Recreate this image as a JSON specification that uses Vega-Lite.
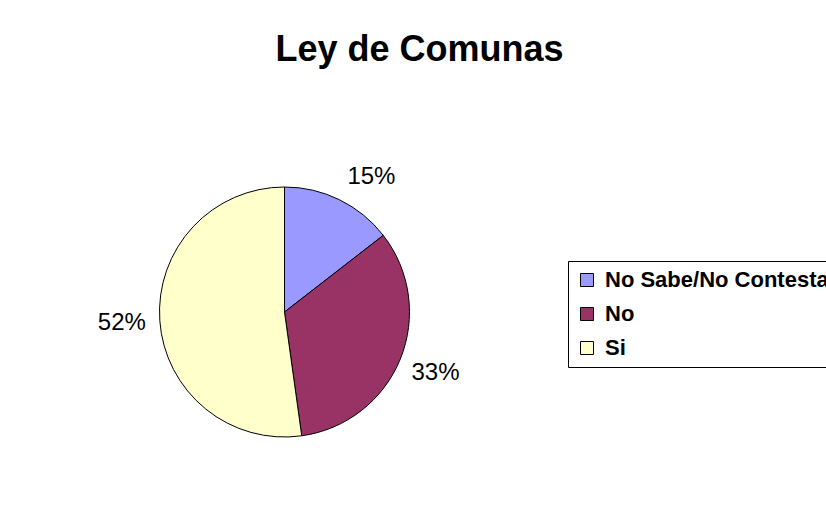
{
  "$schema": "https://vega.github.io/schema/vega-lite/v6.json",
  "width": 569,
  "height": 424,
  "autosize": {"type": "none"},
  "padding": {"left": 0, "top": 100, "right": 257, "bottom": 8},
  "background": "white",
  "title": {
    "text": "Ley de Comunas",
    "font": "Liberation Sans",
    "fontSize": 36,
    "fontWeight": "bold",
    "color": "black",
    "anchor": "middle",
    "frame": "group",
    "dx": 135,
    "offset": 31
  },
  "config": {
    "view": {"stroke": null},
    "legend": {
      "strokeColor": "black",
      "fillColor": "white",
      "padding": 8,
      "cornerRadius": 0,
      "labelFont": "Liberation Sans",
      "labelFontSize": 22,
      "labelFontWeight": "bold",
      "labelColor": "black",
      "labelOffset": 7,
      "labelLimit": 0,
      "rowPadding": 12,
      "symbolType": "square",
      "symbolSize": 169,
      "symbolStrokeColor": "black",
      "symbolStrokeWidth": 1,
      "symbolOpacity": 1
    }
  },
  "data": {
    "values": [
      {"category": "No Sabe/No Contesta", "value": 14.5, "label": "15%"},
      {"category": "No", "value": 33.3, "label": "33%"},
      {"category": "Si", "value": 52.2, "label": "52%"}
    ]
  },
  "encoding": {
    "theta": {"field": "value", "type": "quantitative", "stack": true},
    "order": {"field": "value", "type": "quantitative", "sort": "ascending"},
    "color": {
      "field": "category",
      "type": "nominal",
      "sort": ["No Sabe/No Contesta", "No", "Si"],
      "scale": {
        "domain": ["No Sabe/No Contesta", "No", "Si"],
        "range": ["#9999FF", "#993366", "#FFFFCC"]
      },
      "legend": {"title": null, "orient": "none", "legendX": 568, "legendY": 161}
    }
  },
  "layer": [
    {
      "mark": {"type": "arc", "outerRadius": 125, "stroke": "black", "strokeWidth": 1}
    },
    {
      "mark": {"type": "text", "radius": 143, "align": "left", "baseline": "alphabetic", "font": "Liberation Sans", "fontSize": 24, "color": "black"},
      "encoding": {
        "text": {"condition": {"test": "datum.category == 'No Sabe/No Contesta'", "field": "label"}, "value": ""},
        "color": {"value": "black"}
      }
    },
    {
      "mark": {"type": "text", "radius": 163, "align": "center", "baseline": "middle", "font": "Liberation Sans", "fontSize": 24, "color": "black"},
      "encoding": {
        "text": {"condition": {"test": "datum.category != 'No Sabe/No Contesta'", "field": "label"}, "value": ""},
        "color": {"value": "black"}
      }
    }
  ]
}
